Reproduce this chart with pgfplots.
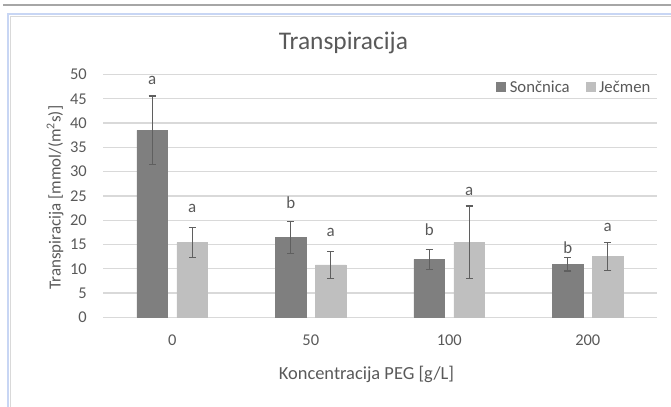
\documentclass[border=0pt]{standalone}
\usepackage{pgfplots}
\pgfplotsset{compat=1.18}
\usepackage{pgfplotstable}
\usepackage{fontspec}
\setmainfont{Carlito}

\definecolor{sonc}{HTML}{7F7F7F}
\definecolor{jecm}{HTML}{BFBFBF}
\definecolor{txt}{HTML}{595959}
\definecolor{gridc}{HTML}{D9D9D9}
\definecolor{errc}{HTML}{5F5F5F}
\definecolor{frameblue}{HTML}{C8D6F4}
\definecolor{topline}{HTML}{A6A6A6}

% mean and standard deviation per PEG concentration
% (x = category index plus the bar's offset within its group)
\pgfplotstableread{
x        y     e
-0.1444  38.5  7.1
0.8556   16.5  3.3
1.8556   11.95 2.05
2.8556   10.95 1.4
}\sonctable
\pgfplotstableread{
x        y     e
0.1444   15.4  3.05
1.1444   10.8  2.8
2.1444   15.45 7.45
3.1444   12.5  2.9
}\jecmtable
% significance letters
\pgfplotstableread{
x        y     l
-0.1444  48.7  a
0.1444   22.5  a
0.8556   23.7  b
1.1444   17.4  a
1.8556   18.0  b
2.1444   25.9  a
2.8556   14.4  b
3.1444   18.6  a
}\lettertable

\begin{document}
\begin{tikzpicture}
\useasboundingbox (0,0) rectangle (671bp,407bp);
% page frame
\draw[topline, line width=1.4bp] (3bp,402bp) -- (671bp,402bp);
\draw[frameblue, line width=2bp] (8bp,0) -- (8bp,392.5bp) -- (671bp,392.5bp);
\draw[gridc, line width=0.8bp] (10.5bp,0) -- (10.5bp,390.5bp) -- (671bp,390.5bp);

\begin{axis}[
  at={(103bp,89.7bp)}, anchor=south west,
  scale only axis,
  width=554bp, height=242.8bp,
  xmin=-0.5, xmax=3.5,
  ymin=0, ymax=50,
  ytick={0,5,...,50},
  xtick={0,1,2,3},
  xticklabels={0,50,100,200},
  axis line style={draw=none},
  major tick length=0pt,
  ymajorgrids,
  grid style={gridc, line width=1.3bp},
  bar width=30.6bp,
  /pgf/number format/assume math mode=true,
  ticklabel style={color=txt, font=\fontsize{16.5}{19}\selectfont},
  xticklabel style={anchor=center, yshift=-22.7bp},
  yticklabel style={anchor=east, inner sep=0pt, xshift=-16bp},
  title={Transpiracija},
  title style={at={(axis description cs:0.434,1.105)}, anchor=center,
    color=txt, font=\fontsize{25.5}{29}\selectfont},
  xlabel={Koncentracija PEG [g/L]},
  xlabel style={at={(axis description cs:0.4756,-0.2335)}, anchor=center,
    color=txt, font=\fontsize{18.5}{21}\selectfont},
  ylabel={Transpiracija [mmol/(m\textsuperscript{2}s)]},
  ylabel style={at={(axis description cs:-0.0866,0.493)}, anchor=center,
    color=txt, font=\fontsize{17}{20}\selectfont},
  legend columns=2,
  legend style={at={(axis description cs:0.992,0.948)}, anchor=east,
    draw=none, fill=none, inner sep=0pt,
    font=\fontsize{16.8}{19}\selectfont, text=txt,
    /tikz/every odd column/.append style={column sep=0bp},
    /tikz/every even column/.append style={column sep=14bp}},
  legend image code/.code={\fill[#1] (0bp,-4.5bp) rectangle (9bp,4.5bp);
    \path (11bp,0bp);},
  error bars/error bar style={errc, line width=1.3bp},
  error bars/error mark options={errc, rotate=90, mark size=3.6bp, line width=1.3bp},
]
\addplot[ybar, bar shift=0pt, fill=sonc, draw=sonc,
  error bars/.cd, y dir=both, y explicit]
  table[x=x, y=y, y error=e] {\sonctable};
\addlegendentry{Sončnica}
\addplot[ybar, bar shift=0pt, fill=jecm, draw=jecm,
  error bars/.cd, y dir=both, y explicit]
  table[x=x, y=y, y error=e] {\jecmtable};
\addlegendentry{Ječmen}
\addplot[draw=none, mark=none, forget plot,
  nodes near coords, point meta=explicit symbolic,
  nodes near coords style={anchor=center, color=txt, font=\fontsize{17}{19}\selectfont}]
  table[x=x, y=y, meta=l] {\lettertable};
\end{axis}
\end{tikzpicture}
\end{document}
